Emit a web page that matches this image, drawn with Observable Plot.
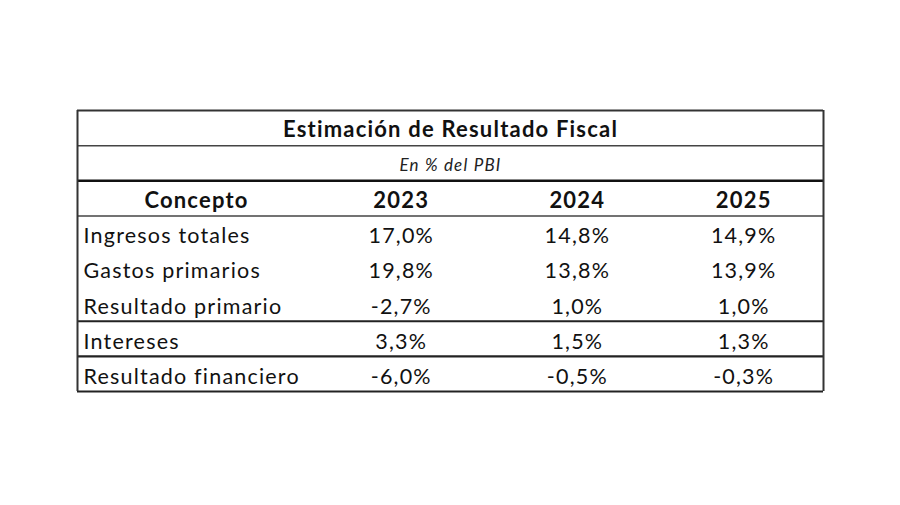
<!DOCTYPE html>
<html><head><meta charset="utf-8">
<script src="https://cdn.jsdelivr.net/npm/d3@7"></script>
<script src="https://cdn.jsdelivr.net/npm/@observablehq/plot@0.6"></script>
<style>
html,body{margin:0;padding:0;background:#fff;}
#chart{width:900px;height:505px;}
#chart svg text{letter-spacing:1.2px;}
#chart svg text.ttl{letter-spacing:1px;}
</style>
</head><body><div id="chart"></div>
<script>
// ---- data ----
const title = "Estimación de Resultado Fiscal";
const subtitle = "En % del PBI";
const headerLabel = "Concepto";
const years = ["2023", "2024", "2025"];
const concepts = ["Ingresos totales", "Gastos primarios", "Resultado primario", "Intereses", "Resultado financiero"];
const v2023 = [17.0, 19.8, -2.7, 3.3, -6.0];
const v2024 = [14.8, 13.8, 1.0, 1.5, -0.5];
const v2025 = [14.9, 13.9, 1.0, 1.3, -0.3];

// ---- layout (table geometry) ----
const colFrac = {Concepto: 0.1595, "2023": 0.434, "2024": 0.670, "2025": 0.893};
const nRows = 3 + concepts.length;
const fontFam = "Lato, 'Open Sans', sans-serif";

const locale = d3.formatLocale({decimal: ",", thousands: ".", grouping: [3], currency: ["$", ""], minus: "-"});
const fmt = v => locale.format(".1f")(v) + "%";

const series = [v2023, v2024, v2025];
const cells = [];
concepts.forEach((c, i) => {
  years.forEach((y, j) => cells.push({row: 3 + i, col: y, text: fmt(series[j][i])}));
});
const labels = concepts.map((c, i) => ({row: 3 + i, text: c}));
const header = [{col: headerLabel, text: headerLabel}].concat(years.map(y => ({col: y, text: y})));

// horizontal lines: row boundary index, width, color
const hlines = [
  {r: 0, w: 2, c: "#333"},
  {r: 1, w: 1.5, c: "#444"},
  {r: 2, w: 2.5, c: "#111"},
  {r: 3, w: 1.5, c: "#444"},
  {r: 6, w: 2.2, c: "#222"},
  {r: 7, w: 2.2, c: "#222"},
  {r: nRows, w: 2.2, c: "#222"}
];

const plot = Plot.plot({
  width: 900,
  height: 505,
  margin: 0,
  x: {type: "linear", domain: [0, 1], range: [77, 823], axis: null},
  y: {type: "linear", domain: [0, nRows], range: [110, 391], axis: null},
  style: {background: "#fff", fontFamily: fontFam, color: "#111"},
  marks: [
    Plot.ruleY(hlines, {y: "r", x1: 0, x2: 1, strokeWidth: "w", stroke: "c"}),
    Plot.ruleX([0, 1], {x: d => d, y1: 0, y2: nRows, stroke: "#333", strokeWidth: 2}),
    Plot.text([title], {x: 0.5, y: 0.5, dy: 2, text: d => d, fontSize: 22, fontWeight: "bold", fill: "#111", className: "ttl"}),
    Plot.text([subtitle], {x: 0.5, y: 1.5, dy: 2, text: d => d, fontSize: 17, fontStyle: "italic", fill: "#222"}),
    Plot.text(header, {x: d => colFrac[d.col], y: 2.5, dy: 3, text: "text", fontSize: 22, fontWeight: "bold", fill: "#111"}),
    Plot.text(labels, {x: 0, dx: 6, y: d => d.row + 0.5, dy: 3, text: "text", textAnchor: "start", fontSize: 21.5, fill: "#111"}),
    Plot.text(cells, {x: d => colFrac[d.col], y: d => d.row + 0.5, dy: 3, text: "text", fontSize: 21.5, fill: "#111"})
  ]
});
document.getElementById("chart").append(plot);
</script>
</body></html>
